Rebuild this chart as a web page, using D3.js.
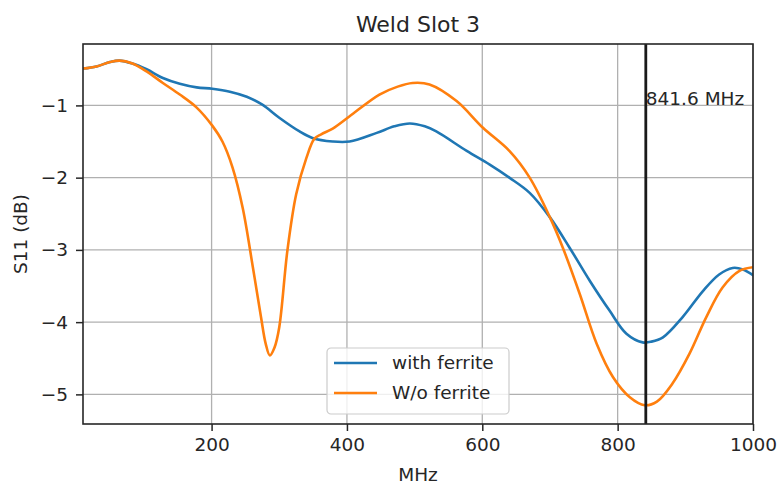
<!DOCTYPE html>
<html><head><meta charset="utf-8">
<script src="https://cdn.jsdelivr.net/npm/d3@7"></script>
<style>
html,body{margin:0;padding:0;background:#fff;}
text{font-family:"DejaVu Sans",sans-serif;fill:#262626;}
</style></head>
<body><svg id="c" width="777" height="485"></svg>
<script>
const title = "Weld Slot 3";
const xLabel = "MHz";
const yLabel = "S11 (dB)";
const xTicks = [200, 400, 600, 800, 1000];
const yTicks = [-1, -2, -3, -4, -5];
const seriesNames = ["with ferrite", "W/o ferrite"];
const markerFreq = 841.6;
const markerLabel = "841.6 MHz";

const withFreq = [10,30,50,64,83,104,128,153,178,201,227,252,275,300,330,349,379,404,444,470,493,515,532,577,611,640,670,700,729,759,788,813,837,850,867,896,926,950,970,985,1000];
const withS11  = [-0.49,-0.46,-0.40,-0.38,-0.42,-0.50,-0.62,-0.70,-0.75,-0.77,-0.81,-0.88,-0.99,-1.17,-1.36,-1.45,-1.50,-1.50,-1.38,-1.29,-1.25,-1.29,-1.36,-1.63,-1.82,-2.00,-2.21,-2.55,-2.97,-3.43,-3.84,-4.16,-4.28,-4.27,-4.21,-3.93,-3.57,-3.34,-3.25,-3.27,-3.35];

const woFreq = [10,30,50,64,83,104,128,153,178,201,216,231,246,261,273,280,286,293,300,312,325,340,352,362,379,404,448,475,497,522,562,601,640,670,700,719,744,769,793,818,840,858,881,906,931,955,980,1000];
const woS11  = [-0.49,-0.46,-0.40,-0.38,-0.42,-0.53,-0.69,-0.85,-1.03,-1.28,-1.50,-1.86,-2.42,-3.24,-3.93,-4.30,-4.46,-4.35,-4.07,-3.01,-2.23,-1.73,-1.46,-1.40,-1.32,-1.15,-0.85,-0.74,-0.69,-0.71,-0.94,-1.31,-1.63,-2.00,-2.55,-2.97,-3.61,-4.30,-4.76,-5.04,-5.15,-5.10,-4.85,-4.44,-3.93,-3.52,-3.29,-3.24];

const colors = ["#1f77b4", "#ff7f0e"];

const L = 83, R = 753, T = 44, B = 424;
const svg = d3.select("#c");
const x = d3.scaleLinear().domain([10, 1000]).range([L, R]);
const y = d3.scaleLinear().domain([-5.41, -0.15]).range([B, T]);

// grid
const g = svg.append("g");
g.selectAll(".vg").data(xTicks).enter().append("line")
  .attr("x1", d => x(d)).attr("x2", d => x(d)).attr("y1", T).attr("y2", B)
  .attr("stroke", "#b0b0b0").attr("stroke-width", 1.3);
g.selectAll(".hg").data(yTicks).enter().append("line")
  .attr("x1", L).attr("x2", R).attr("y1", d => y(d)).attr("y2", d => y(d))
  .attr("stroke", "#b0b0b0").attr("stroke-width", 1.3);

// lines
svg.append("defs").append("clipPath").attr("id", "clip")
  .append("rect").attr("x", L).attr("y", T).attr("width", R - L).attr("height", B - T);
const line = d3.line().x(d => x(d[0])).y(d => y(d[1])).curve(d3.curveCatmullRom.alpha(0.5));
const data = [d3.zip(withFreq, withS11), d3.zip(woFreq, woS11)];
data.forEach((d, i) => {
  svg.append("path").attr("d", line(d)).attr("fill", "none")
    .attr("stroke", colors[i]).attr("stroke-width", 2.6)
    .attr("stroke-linejoin", "round").attr("stroke-linecap", "square")
    .attr("clip-path", "url(#clip)");
});

// marker
svg.append("line").attr("x1", x(markerFreq)).attr("x2", x(markerFreq))
  .attr("y1", T).attr("y2", B).attr("stroke", "#1a1a1a").attr("stroke-width", 2.8);
svg.append("text").attr("x", x(markerFreq)).attr("y", y(-1))
  .attr("font-size", 18.5).text(markerLabel);

// axes
const xAxis = d3.axisBottom(x).tickValues(xTicks).tickSize(7).tickPadding(7)
  .tickFormat(d3.format("d"));
const gx = svg.append("g").attr("transform", `translate(0,${B})`).call(xAxis);
const yAxis = d3.axisLeft(y).tickValues(yTicks).tickSize(7).tickPadding(8)
  .tickFormat(d => "\u2212" + Math.abs(d));
const gy = svg.append("g").attr("transform", `translate(${L},0)`).call(yAxis);
[gx, gy].forEach(a => {
  a.select(".domain").remove();
  a.selectAll(".tick line").attr("stroke", "#262626").attr("stroke-width", 1.5);
  a.selectAll(".tick text").attr("font-size", 18.5).attr("font-family", "DejaVu Sans").attr("fill", "#262626");
});

// frame
svg.append("rect").attr("x", L).attr("y", T).attr("width", R - L).attr("height", B - T)
  .attr("fill", "none").attr("stroke", "#262626").attr("stroke-width", 1.6);

// titles
svg.append("text").attr("x", (L + R) / 2).attr("y", 32).attr("text-anchor", "middle")
  .attr("font-size", 22).text(title);
svg.append("text").attr("x", (L + R) / 2).attr("y", 481).attr("text-anchor", "middle")
  .attr("font-size", 18.5).text(xLabel);
svg.append("text").attr("transform", `translate(27,${(T + B) / 2}) rotate(-90)`)
  .attr("text-anchor", "middle").attr("font-size", 18.5).text(yLabel);

// legend
const lg = svg.append("g").attr("transform", "translate(327,348)");
lg.append("rect").attr("width", 182).attr("height", 66).attr("rx", 4)
  .attr("fill", "#fff").attr("fill-opacity", 0.8).attr("stroke", "#cccccc").attr("stroke-width", 1.2);
seriesNames.forEach((n, i) => {
  const yy = 15 + i * 30;
  lg.append("line").attr("x1", 7).attr("x2", 50).attr("y1", yy).attr("y2", yy)
    .attr("stroke", colors[i]).attr("stroke-width", 2.6);
  lg.append("text").attr("x", 65).attr("y", yy).attr("dy", "0.35em")
    .attr("font-size", 18.5).text(n);
});
</script></body></html>
